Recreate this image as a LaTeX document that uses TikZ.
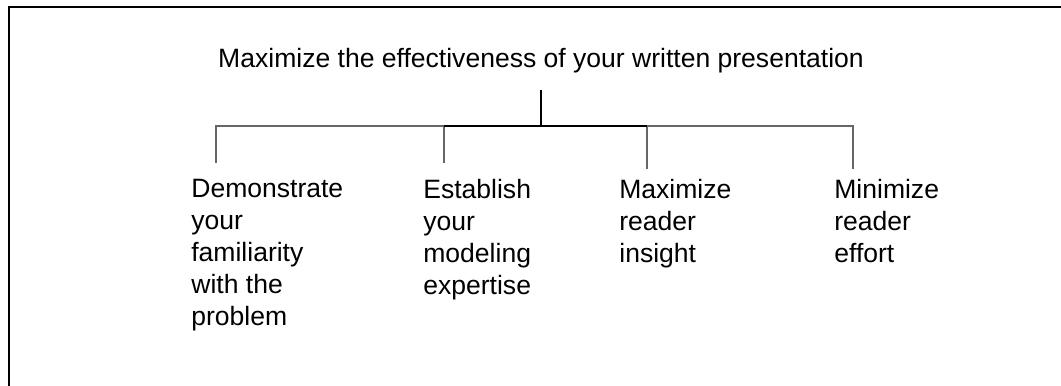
\documentclass[tikz,border=0pt]{standalone}
\usepackage{fontspec}
\setmainfont{Liberation Sans}
\usetikzlibrary{positioning}
\tikzset{
  goalbox/.style={inner xsep=0pt, inner ysep=0.35cm, anchor=base, font=\fontsize{15.1}{18.2}\selectfont},
  leaf/.style={inner sep=0pt, anchor=north west, align=left, font=\fontsize{15.1}{18.2}\selectfont},
  frame/.style={line width=1.15pt, black},
  stem/.style={line width=0.8pt, black},
  branch/.style={line width=0.6pt, black!60}
}
\begin{document}
\begin{tikzpicture}
	\useasboundingbox (0,0) rectangle (21.22,-7.70);
	\draw[frame] (0.18,-8) |- (21.5,-0.14);
	%
	\node[goalbox] (goal) at (10.82,-1.34) {Maximize the effectiveness of your written presentation};
	\node[leaf] (demo) at (3.82,-3.58) {Demonstrate\\your\\familiarity\\with the\\problem};
	\node[leaf] (expert) at (8.46,-3.58) {Establish\\your\\modeling\\expertise};
	\node[leaf] (insight) at (12.38,-3.58) {Maximize\\reader\\insight};
	\node[leaf] (effort) at (16.68,-3.58) {Minimize\\reader\\effort};
	%
	\coordinate (hub) at (10.82,-2.52);
	\coordinate (d1) at (4.32,-3.26);
	\coordinate (d2) at (8.88,-3.26);
	\coordinate (d3) at (12.94,-3.38);
	\coordinate (d4) at (17.06,-3.38);
	%
	\draw[branch] (hub) -| (d1);
	\draw[branch] (hub) -| (d4);
	\draw[branch] (hub) -| (d2);
	\draw[branch] (hub) -| (d3);
	\draw[stem] (goal.south) -- (hub);
	\draw[stem] (d2 |- hub) -- (d3 |- hub);
\end{tikzpicture}
\end{document}
